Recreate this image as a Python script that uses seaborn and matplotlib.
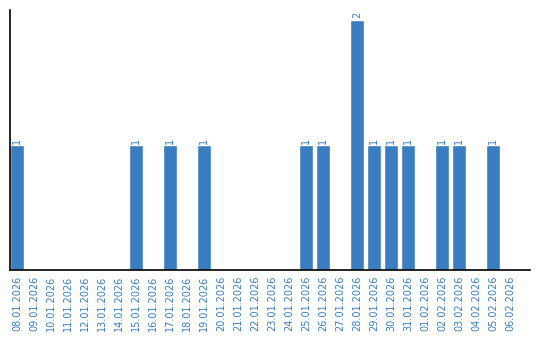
import matplotlib
matplotlib.use("Agg")
import matplotlib.pyplot as plt
import seaborn as sns
import pandas as pd

dates = ["08.01.2026", "09.01.2026", "10.01.2026", "11.01.2026", "12.01.2026",
         "13.01.2026", "14.01.2026", "15.01.2026", "16.01.2026", "17.01.2026",
         "18.01.2026", "19.01.2026", "20.01.2026", "21.01.2026", "22.01.2026",
         "23.01.2026", "24.01.2026", "25.01.2026", "26.01.2026", "27.01.2026",
         "28.01.2026", "29.01.2026", "30.01.2026", "31.01.2026", "01.02.2026",
         "02.02.2026", "03.02.2026", "04.02.2026", "05.02.2026", "06.02.2026"]
counts = [1, 0, 0, 0, 0, 0, 0, 1, 0, 1,
          0, 1, 0, 0, 0, 0, 0, 1, 1, 0,
          2, 1, 1, 1, 0, 1, 1, 0, 1, 0]

BLUE = "#3b7dc1"

sns.set_theme(style="white")
plt.rcParams['font.family'] = ['DejaVu Sans']

df = pd.DataFrame({"date": dates, "count": counts})

fig = plt.figure(figsize=(5.4, 3.4), dpi=100)
ax = fig.add_axes([10/540, 1 - 270/340, 520/540, 260/340])
sns.barplot(data=df, x="date", y="count", color=BLUE, saturation=1,
            width=0.82, ax=ax, order=dates)

for i, v in enumerate(counts):
    if v > 0:
        ax.text(i, v + 0.012, str(v), rotation=90, ha="center", va="bottom",
                fontsize=7, color=BLUE)

ax.set_xlim(-0.41, 30.18)
ax.set_ylim(0, 2.08)
ax.set_xlabel("")
ax.set_ylabel("")
ax.set_yticks([])
ax.tick_params(axis="x", length=0, pad=4, labelsize=7, labelcolor=BLUE)
for lbl in ax.get_xticklabels():
    lbl.set_rotation(90)
for s in ["top", "right"]:
    ax.spines[s].set_visible(False)
for s in ["left", "bottom"]:
    ax.spines[s].set_color("black")
    ax.spines[s].set_linewidth(1.2)

fig.savefig("out.png", dpi=100)
